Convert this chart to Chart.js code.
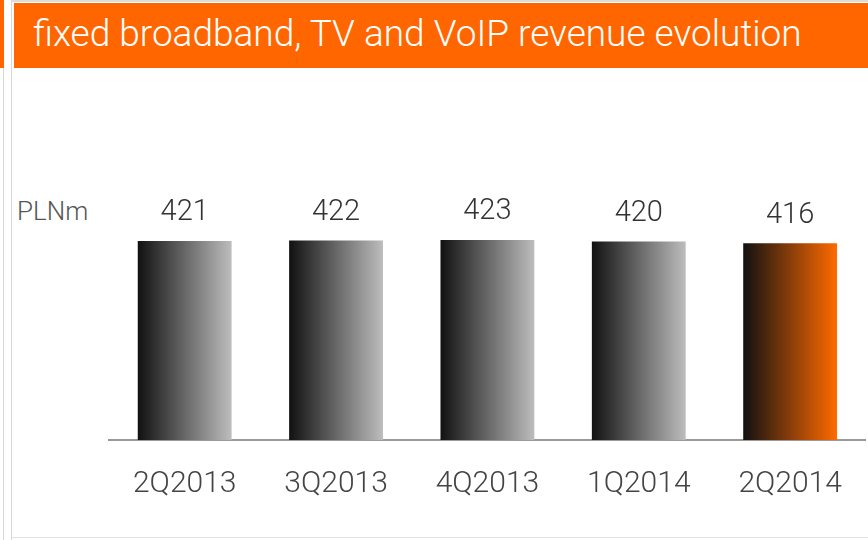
<!DOCTYPE html>
<html>
<head>
<meta charset="utf-8">
<script src="https://cdn.jsdelivr.net/npm/chart.js@4/dist/chart.umd.min.js"></script>
<style>
  html, body { margin: 0; padding: 0; background: #fff; }
  #page { position: relative; width: 868px; height: 540px; overflow: hidden; font-family: Roboto, 'Liberation Sans', sans-serif; }
  #strip { position: absolute; left: 0; top: 0; width: 4px; height: 68px; background: #ff6600; }
  #line-a { position: absolute; left: 3px; top: 68px; width: 1px; height: 472px; background: #d8d8d8; }
  #line-b { position: absolute; left: 11px; top: 0; width: 1px; height: 540px; background: #d8d8d8; }
  #topline { position: absolute; left: 12px; top: 0; width: 856px; height: 2px; background: #dcdcdc; }
  #bottomline { position: absolute; left: 12px; top: 537px; width: 856px; height: 1px; background: #e2e2e2; }
  #header { position: absolute; left: 14px; top: 3px; width: 854px; height: 65px; background: #ff6600; }
  #title { position: absolute; left: 19px; top: 9px; color: #fff; font-size: 37px; font-weight: 300; white-space: nowrap; }
  #unit { position: absolute; left: 17px; top: 196px; color: #555; font-size: 26px; font-weight: 300; }
  #wrap { position: absolute; left: 0; top: 68px; width: 868px; height: 472px; }
</style>
</head>
<body>
<div id="page">
  <div id="strip"></div>
  <div id="line-a"></div>
  <div id="line-b"></div>
  <div id="topline"></div>
  <div id="bottomline"></div>
  <div id="header"><div id="title">fixed broadband, TV and VoIP revenue evolution</div></div>
  <div id="unit">PLNm</div>
  <div id="wrap"><canvas id="barChart"></canvas></div>
</div>
<script>
// data
const quarters = ['2Q2013', '3Q2013', '4Q2013', '1Q2014', '2Q2014'];
const revenue = [421, 422, 423, 420, 416];
const endColors = ['#bdbdbd', '#bdbdbd', '#bdbdbd', '#bdbdbd', '#ff6a00'];
const barPct = 0.62;

// horizontal gradient per bar, black on the left
function barGradient(context) {
    const chart = context.chart;
    const xScale = chart.scales.x;
    if (!chart.chartArea || !xScale) {
        return '#888';
    }
    const i = context.dataIndex;
    const w = (xScale.width / quarters.length) * barPct;
    const left = xScale.getPixelForValue(i) - w / 2;
    const g = chart.ctx.createLinearGradient(left, 0, left + w, 0);
    g.addColorStop(0, '#111111');
    g.addColorStop(1, endColors[i]);
    return g;
}

// value labels above the bars
const valueLabels = {
    id: 'valueLabels',
    afterDatasetsDraw(chart) {
        const ctx = chart.ctx;
        ctx.save();
        ctx.font = '300 29px Roboto, "Liberation Sans", sans-serif';
        ctx.fillStyle = '#333';
        ctx.textAlign = 'center';
        ctx.textBaseline = 'middle';
        chart.getDatasetMeta(0).data.forEach((bar, i) => {
            ctx.fillText(revenue[i], bar.x, bar.y - 28);
        });
        ctx.restore();
    }
};

const ctx = document.getElementById('barChart').getContext('2d');
new Chart(ctx, {
    type: 'bar',
    data: {
        labels: quarters,
        datasets: [{
            data: revenue,
            backgroundColor: barGradient,
            borderWidth: 0,
            barPercentage: barPct,
            categoryPercentage: 1
        }]
    },
    options: {
        responsive: true,
        maintainAspectRatio: false,
        animation: false,
        layout: { padding: { left: 109, right: 1, top: 41, bottom: 12 } },
        plugins: {
            legend: { display: false },
            tooltip: { enabled: false }
        },
        scales: {
            x: {
                grid: { display: false, drawTicks: false },
                border: { display: true, color: '#999', width: 2 },
                ticks: {
                    color: '#444',
                    padding: 26,
                    font: { family: 'Roboto, "Liberation Sans", sans-serif', size: 30, weight: 300 }
                }
            },
            y: {
                display: false,
                min: 0,
                max: 700
            }
        }
    },
    plugins: [valueLabels]
});
</script>
</body>
</html>
